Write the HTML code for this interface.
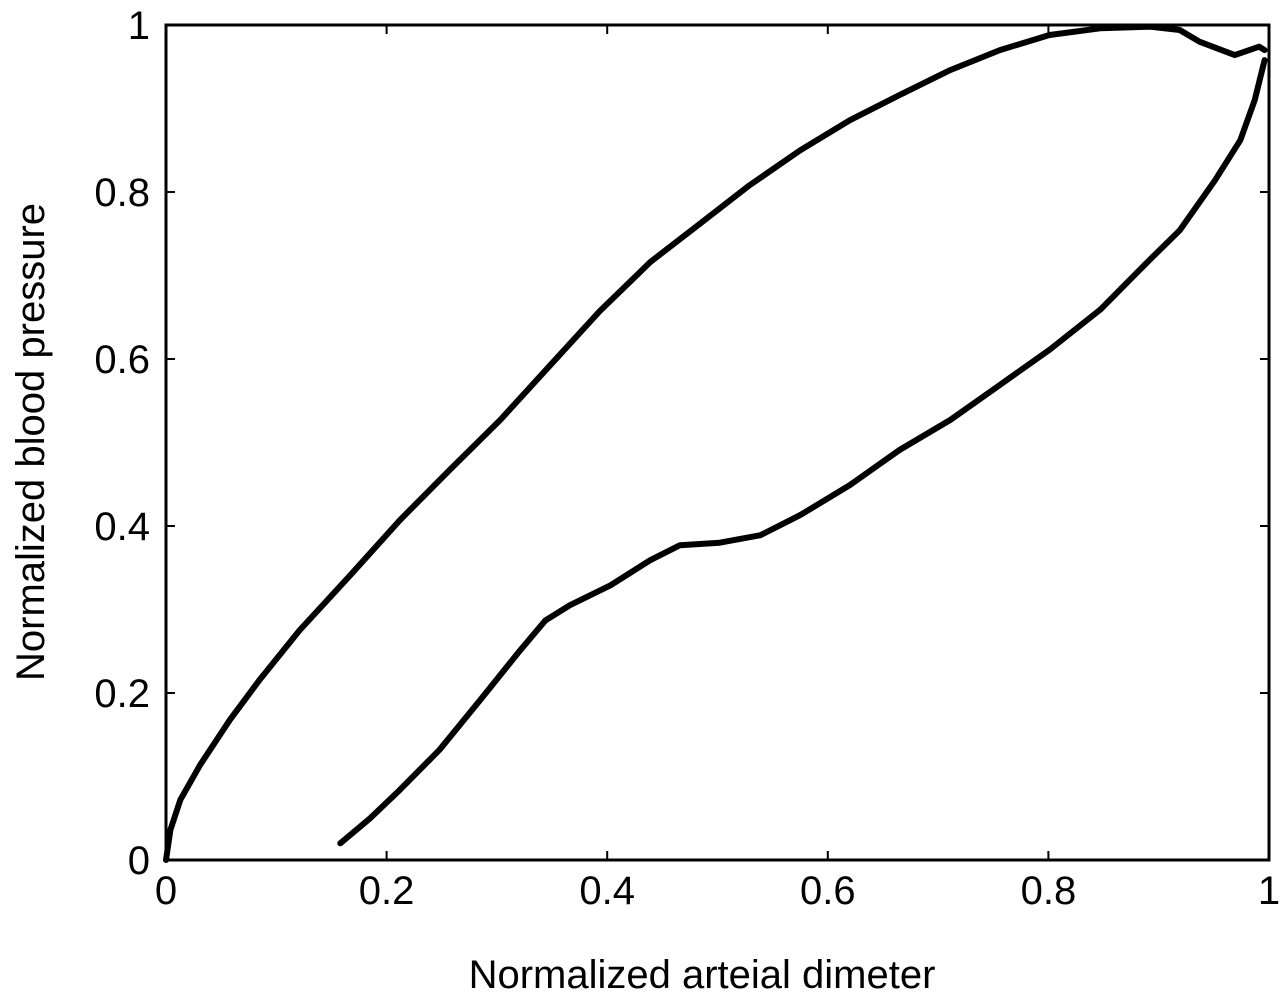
<!DOCTYPE html>
<html><head><meta charset="utf-8"><style>
body{margin:0;background:#fff}
text{font-family:"Liberation Sans",Arial,sans-serif;fill:#000}
</style></head><body>
<svg id="chart" width="1280" height="997" xmlns="http://www.w3.org/2000/svg">
<rect width="1280" height="997" fill="#fff"/>
<g id="ticks"></g>
<rect x="166" y="25" width="1103" height="835" fill="none" stroke="#000" stroke-width="3"/>
<g id="series"></g>
<text x="702" y="988" font-size="40" text-anchor="middle">Normalized arteial dimeter</text>
<text transform="translate(44,442) rotate(-90)" font-size="40" text-anchor="middle">Normalized blood pressure</text>
</svg>
<script>
const xTicks=[0,0.2,0.4,0.6,0.8,1];
const yTicks=[0,0.2,0.4,0.6,0.8,1];
const xTickLabels=["0","0.2","0.4","0.6","0.8","1"];
const yTickLabels=["0","0.2","0.4","0.6","0.8","1"];
const upperX=[0,0.004,0.013,0.031,0.058,0.085,0.121,0.167,0.212,0.257,0.303,0.348,0.393,0.439,0.484,0.529,0.575,0.620,0.665,0.711,0.756,0.801,0.847,0.892,0.919,0.937,0.969,0.991,0.996];
const upperY=[0,0.036,0.072,0.114,0.168,0.216,0.275,0.341,0.407,0.467,0.527,0.592,0.657,0.716,0.762,0.808,0.850,0.886,0.916,0.946,0.970,0.988,0.996,0.998,0.994,0.980,0.964,0.974,0.970];
const lowerX=[0.996,0.987,0.974,0.951,0.919,0.892,0.847,0.801,0.756,0.711,0.665,0.620,0.575,0.539,0.502,0.466,0.439,0.403,0.366,0.344,0.321,0.285,0.248,0.212,0.185,0.158];
const lowerY=[0.958,0.910,0.862,0.814,0.754,0.719,0.659,0.611,0.569,0.527,0.491,0.449,0.413,0.389,0.380,0.377,0.359,0.329,0.305,0.287,0.251,0.192,0.132,0.084,0.050,0.020];
const X=v=>166+v*1103, Y=v=>860-v*835;
const NS="http://www.w3.org/2000/svg";
const tg=document.getElementById('ticks'), sg=document.getElementById('series');
function mk(tag,attrs,parent){const e=document.createElementNS(NS,tag);for(const k in attrs)e.setAttribute(k,attrs[k]);parent.appendChild(e);return e;}
xTicks.forEach((v,i)=>{
  const t=mk('path',{d:`M${X(v)},860v-9M${X(v)},25v9`,stroke:'#000','stroke-width':2},tg);
  
  
  const l=mk('text',{x:X(v),y:904,'font-size':40,'text-anchor':'middle'},tg);
  l.textContent=xTickLabels[i];
  
  
});
yTicks.forEach((v,i)=>{
  const t=mk('path',{d:`M166,${Y(v)}h9M1269,${Y(v)}h-9`,stroke:'#000','stroke-width':2},tg);
  
  
  const l=mk('text',{x:150,y:Y(v)+14,'font-size':40,'text-anchor':'end'},tg);
  l.textContent=yTickLabels[i];
  
  
});
function line(xs,ys,name){
  const d=xs.map((x,i)=>(i?'L':'M')+X(x).toFixed(1)+','+Y(ys[i]).toFixed(1)).join('');
  const p=mk('path',{d:d,fill:'none',stroke:'#000','stroke-width':6,'stroke-linejoin':'round','stroke-linecap':'round'},sg);
  
  
}
line(upperX,upperY,'upper-loop-curve');
line(lowerX,lowerY,'lower-loop-curve');
</script>
</body></html>
